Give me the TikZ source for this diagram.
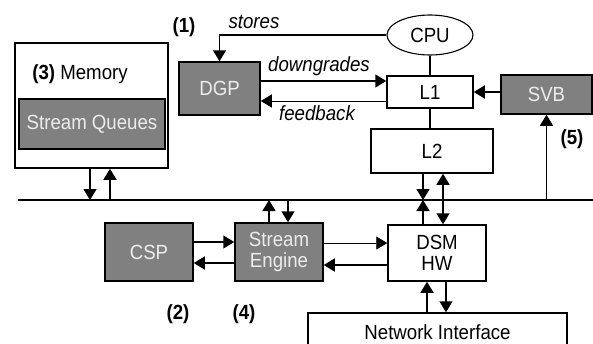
\documentclass[tikz,border=0pt]{standalone}
\usepackage{fontspec}
\setmainfont[FakeStretch=0.91]{Liberation Sans}
\usetikzlibrary{arrows.meta,shapes.geometric,calc}
\definecolor{boxgray}{RGB}{128,128,128}
\definecolor{boxtext}{RGB}{236,236,236}
\begin{document}
\begin{tikzpicture}[x=1pt,y=-1pt,
  font=\fontsize{20.5}{21}\selectfont,
  box/.style={draw,line width=1.5pt,inner sep=0pt,fill=white,align=center},
  gbox/.style={box,fill=boxgray,text=boxtext},
  conn/.style={line width=1.5pt},
  arr/.style={conn,-{Triangle[length=11pt,width=13pt]}},
  darr/.style={conn,{Triangle[length=11pt,width=13pt]}-{Triangle[length=11pt,width=13pt]}},
  thinarr/.style={line width=0.8pt,-{Triangle[length=11pt,width=13pt]}},
  lbl/.style={inner sep=0pt,anchor=base},
  ilbl/.style={lbl,font=\fontsize{20.5}{21}\selectfont\itshape},
  blbl/.style={lbl,font=\fontsize{20.5}{21}\selectfont\bfseries}]
\useasboundingbox (0,0) rectangle (593,343);

% nodes
\node[box,minimum width=153pt,minimum height=125pt] (mem) at (91.5,105.5) {};
\node[lbl] (memlbl) at (80,79) {\textbf{(3)} Memory};
\node[gbox,minimum width=146pt,minimum height=50pt] (sq) at (92,124) {Stream Queues};
\node[gbox,minimum width=81pt,minimum height=53pt] (dgp) at (219.5,88.5) {DGP};
\node[draw,ellipse,line width=1.1pt,inner sep=0pt,minimum width=86pt,minimum height=40pt] (cpu) at (430,35) {CPU};
\node[box,minimum width=86pt,minimum height=32pt] (l1) at (430,92) {L1};
\node[gbox,minimum width=91pt,minimum height=39pt] (svb) at (546.5,94.5) {SVB};
\node[box,minimum width=122pt,minimum height=44pt] (l2) at (432,151) {L2};
\node[gbox,minimum width=88pt,minimum height=58pt] (csp) at (149,252) {CSP};
\node[gbox,minimum width=88pt,minimum height=58pt] (se) at (279,252) {Stream\\Engine};
\node[box,minimum width=98pt,minimum height=56pt] (dsm) at (437,253) {DSM\\HW};
\node[box,minimum width=259pt,minimum height=38pt] (ni) at (437.5,332) {Network Interface};

% labels
\node[blbl] (n1) at (184,32) {(1)};
\node[ilbl] (st) at (254,28) {stores};
\node[ilbl] (dg) at (319,71) {downgrades};
\node[ilbl] (fbl) at (317,120) {feedback};
\node[blbl] (n2) at (178,319) {(2)};
\node[blbl] (n4) at (244,319) {(4)};
\node[blbl] (n5) at (572,144) {(5)};

% bus
\coordinate (busL) at (18,200);
\coordinate (busR) at (593,200);
\draw[conn] (busL) -- (busR);

% top connectors
\draw[arr] (cpu.west) -| (dgp.north);
\draw[arr] ([yshift=7.5pt]dgp.east) coordinate (dga) -- (dga -| l1.west);
\draw[thinarr] ([yshift=-9pt]l1.west) coordinate (fba) -- (fba -| dgp.east);
\draw[conn] (cpu.south) -- (cpu.south |- l1.north);
\draw[arr] (l1.east -| svb.west) -- (l1.east);
\draw[conn] (l1.south) -- (l1.south |- l2.north);
\draw[arr] (svb.south |- busR) -- (svb.south);

% memory <-> bus
\path ([xshift=-1.5pt]mem.south) coordinate (m1) ([xshift=18.5pt]mem.south) coordinate (m2);
\draw[arr] (m1) -- (m1 |- busL);
\draw[arr] (m2 |- busL) -- (m2);

% L2 <-> bus / DSM
\path ([xshift=-9pt]l2.south) coordinate (a1) ([xshift=11pt]l2.south) coordinate (a2);
\draw[arr] (a1) -- (a1 |- busL);
\draw[darr] (a2) -- (a2 |- dsm.north);
\draw[arr] (a1 |- dsm.north) -- (a1 |- busL);

% Stream engine <-> bus
\path ([xshift=-10pt]se.north) coordinate (s1) ([xshift=9pt]se.north) coordinate (s2);
\draw[arr] (s1) -- (s1 |- busL);
\draw[arr] (s2 |- busL) -- (s2);

% CSP <-> SE
\draw[arr] ([yshift=10pt]csp.east) coordinate (c1) -- (c1 -| se.west);
\draw[arr] ([yshift=-11pt]se.west) coordinate (c2) -- (c2 -| csp.east);

% SE <-> DSM
\draw[thinarr] ([yshift=9pt]se.east) coordinate (d1) -- (d1 -| dsm.west);
\draw[arr] ([yshift=-12pt]dsm.west) coordinate (d2) -- (d2 -| se.east);

% DSM <-> NI
\path ([xshift=-10pt]dsm.south) coordinate (n1a) ([xshift=9pt]dsm.south) coordinate (n2a);
\draw[arr] (n1a |- ni.north) -- (n1a);
\draw[arr] (n2a) -- (n2a |- ni.north);
\end{tikzpicture}
\end{document}
